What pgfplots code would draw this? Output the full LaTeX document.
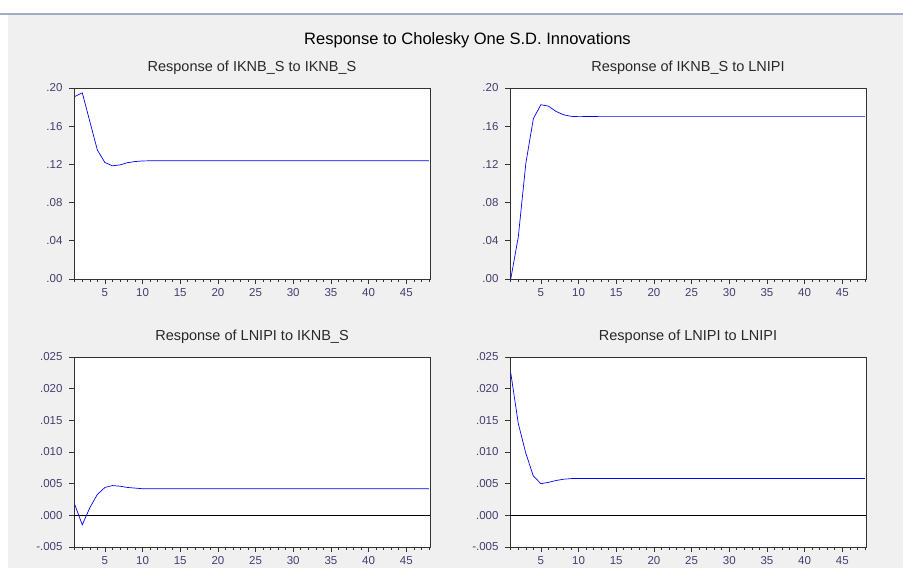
\documentclass[border=0pt]{standalone}
\usepackage{pgfplots}
\pgfplotsset{compat=1.18}
\usepackage{pgfplotstable}
\usepackage{fontspec}
\setmainfont{Liberation Sans}
\definecolor{bgc}{RGB}{240,240,240}
\definecolor{tickc}{RGB}{70,60,110}
\definecolor{framec}{RGB}{50,50,50}
\definecolor{topline}{RGB}{160,174,196}
\pgfplotstableread{
x tl tr bl br
1 0.1910 0.0000 0.0017 0.0225
2 0.1950 0.0440 -0.0015 0.0145
3 0.1650 0.1210 0.0012 0.0098
4 0.1350 0.1680 0.0033 0.0062
5 0.1220 0.1825 0.0044 0.0050
6 0.1185 0.1810 0.0047 0.0052
7 0.1195 0.1755 0.0046 0.0055
8 0.1218 0.1720 0.0044 0.0057
9 0.1230 0.1703 0.0043 0.0058
10 0.1236 0.1700 0.0042 0.0058
11 0.1238 0.1701 0.0042 0.0058
12 0.1238 0.1702 0.0042 0.0058
13 0.1238 0.1703 0.0042 0.0058
14 0.1238 0.1703 0.0042 0.0058
15 0.1238 0.1703 0.0042 0.0058
16 0.1238 0.1703 0.0042 0.0058
17 0.1238 0.1703 0.0042 0.0058
18 0.1238 0.1703 0.0042 0.0058
19 0.1238 0.1703 0.0042 0.0058
20 0.1238 0.1703 0.0042 0.0058
21 0.1238 0.1703 0.0042 0.0058
22 0.1238 0.1703 0.0042 0.0058
23 0.1238 0.1703 0.0042 0.0058
24 0.1238 0.1703 0.0042 0.0058
25 0.1238 0.1703 0.0042 0.0058
26 0.1238 0.1703 0.0042 0.0058
27 0.1238 0.1703 0.0042 0.0058
28 0.1238 0.1703 0.0042 0.0058
29 0.1238 0.1703 0.0042 0.0058
30 0.1238 0.1703 0.0042 0.0058
31 0.1238 0.1703 0.0042 0.0058
32 0.1238 0.1703 0.0042 0.0058
33 0.1238 0.1703 0.0042 0.0058
34 0.1238 0.1703 0.0042 0.0058
35 0.1238 0.1703 0.0042 0.0058
36 0.1238 0.1703 0.0042 0.0058
37 0.1238 0.1703 0.0042 0.0058
38 0.1238 0.1703 0.0042 0.0058
39 0.1238 0.1703 0.0042 0.0058
40 0.1238 0.1703 0.0042 0.0058
41 0.1238 0.1703 0.0042 0.0058
42 0.1238 0.1703 0.0042 0.0058
43 0.1238 0.1703 0.0042 0.0058
44 0.1238 0.1703 0.0042 0.0058
45 0.1238 0.1703 0.0042 0.0058
46 0.1238 0.1703 0.0042 0.0058
47 0.1238 0.1703 0.0042 0.0058
48 0.1238 0.1703 0.0042 0.0058
}\irf
\pgfplotsset{
  irf/.style={
    anchor=south west, scale only axis,
    width=356pt,
    xmin=0.9, xmax=48.15,
    xtick={5,10,...,45}, minor xtick={1,2,...,48},
    xtick pos=bottom, ytick pos=left,
    tick align=outside,
    scaled y ticks=false, scaled x ticks=false,
    major tick length=5pt, minor tick length=3pt,
    tick style={color=framec, line width=0.6pt},
    minor tick style={color=framec, line width=0.6pt},
    axis line style={color=framec, line width=0.8pt},
    tick label style={font=\fontsize{11.5}{12}\selectfont, text=tickc},
    /pgf/number format/assume math mode=true,
    xticklabel style={yshift=-1pt},
    yticklabel style={xshift=-3pt},
    axis background/.style={fill=white},
    title style={at={(0.5,1)}, anchor=base, yshift=16pt, font=\fontsize{14.5}{15}\selectfont, text={rgb,255:red,40;green,40;blue,40}},
    every axis plot/.append style={line width=0.7pt},
  },
  topy/.style={height=191pt, ymin=0, ymax=0.2, ytick={0,0.04,0.08,0.12,0.16,0.2},
    yticklabels={.00,.04,.08,.12,.16,.20}},
  boty/.style={height=190pt, ymin=-0.005, ymax=0.025, ytick={-0.005,0,0.005,0.01,0.015,0.02,0.025},
    yticklabels={-.005,.000,.005,.010,.015,.020,.025}},
}
\begin{document}
\begin{tikzpicture}
\useasboundingbox (0,0) rectangle (903pt,568pt);
\fill[white] (0,0) rectangle (903pt,568pt);
\fill[bgc] (8pt,0) rectangle (903pt,554pt);
\fill[topline] (0,553pt) rectangle (903pt,555pt);
\node[anchor=base, font=\fontsize{16.5}{17}\selectfont] at (467.5pt,523pt) {Response to Cholesky One S.D. Innovations};

\begin{axis}[irf, topy, at={(74pt,289pt)}, title={Response of IKNB\_S to IKNB\_S}, title style={yshift=-6pt}]
\addplot[blue, no marks] table[x=x, y=tl] {\irf};
\end{axis}

\begin{axis}[irf, topy, at={(510pt,289pt)}, title={Response of IKNB\_S to LNIPI}, title style={yshift=-6pt}]
\addplot[blue, no marks] table[x=x, y=tr] {\irf};
\end{axis}

\begin{axis}[irf, boty, at={(74pt,21pt)}, title={Response of LNIPI to IKNB\_S}, title style={yshift=-6pt}]
\addplot[black, no marks, line width=0.6pt] coordinates {(0.9,0) (48.15,0)};
\addplot[blue, no marks] table[x=x, y=bl] {\irf};
\end{axis}

\begin{axis}[irf, boty, at={(510pt,21pt)}, title={Response of LNIPI to LNIPI}, title style={yshift=-6pt}]
\addplot[black, no marks, line width=0.6pt] coordinates {(0.9,0) (48.15,0)};
\addplot[blue, no marks] table[x=x, y=br] {\irf};
\end{axis}
\end{tikzpicture}
\end{document}
